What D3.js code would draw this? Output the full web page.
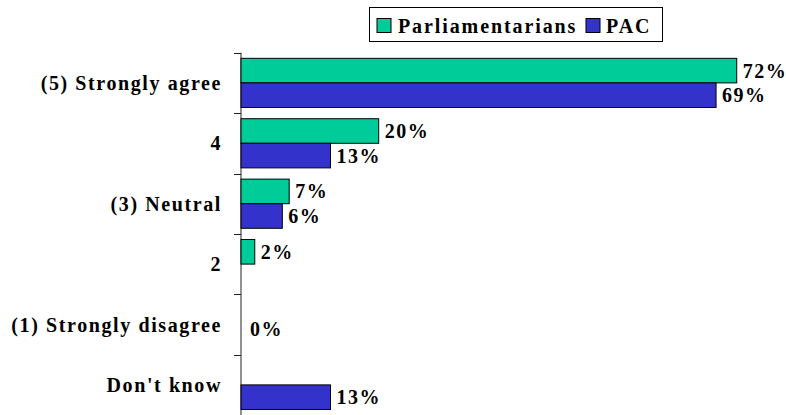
<!DOCTYPE html>
<html>
<head>
<meta charset="utf-8">
<script src="https://cdn.jsdelivr.net/npm/d3@7"></script>
<style>
  body { margin: 0; background: #fff; }
</style>
</head>
<body>
<svg id="chart"></svg>
<script>
const categories = ['(5) Strongly agree', '4', '(3) Neutral', '2', '(1) Strongly disagree', "Don't know"];
const seriesNames = ['Parliamentarians', 'PAC'];
const parliamentarians = [72, 20, 7, 2, 0, null];
const pac = [69, 13, 6, null, 0, 13];
const colors = ['#00cc99', '#3333cc'];

const W = 786, H = 415;
const margin = { top: 52.7, left: 241 };

const svg = d3.select('#chart').attr('width', W).attr('height', H);

function label(sel, spacing) {
  return sel
    .style('font-family', '"Liberation Serif"')
    .style('font-weight', 'bold')
    .style('font-size', '20px')
    .style('letter-spacing', spacing + 'px')
    .attr('fill', '#000');
}

const y = d3.scaleBand()
  .domain(categories)
  .range([margin.top, margin.top + 60.4 * categories.length])
  .paddingInner(0.186)
  .paddingOuter(0.093);

const ySub = d3.scaleBand()
  .domain(seriesNames)
  .range([0, y.bandwidth()]);

const x = d3.scaleLinear()
  .domain([0, 80])
  .range([margin.left, margin.left + 6.885 * 80]);

const step = y.step();

// axis line and tick marks at category boundaries
const axis = svg.append('g').attr('stroke', '#222').attr('stroke-width', 1);
axis.append('line')
  .attr('x1', margin.left).attr('x2', margin.left)
  .attr('y1', margin.top).attr('y2', H + 5);
d3.range(categories.length).forEach(i => {
  const ty = Math.round(y(categories[i]) - y.paddingOuter() * step) + 0.5;
  axis.append('line')
    .attr('x1', margin.left - 7).attr('x2', margin.left)
    .attr('y1', ty).attr('y2', ty);
});

// category labels
svg.append('g').selectAll('text')
  .data(categories)
  .enter()
  .append('text')
  .attr('x', 222)
  .attr('y', d => y(d) + y.bandwidth() / 2)
  .attr('dy', '0.35em')
  .attr('text-anchor', 'end')
  .text(d => d)
  .call(label, 1.6);

const series = [parliamentarians, pac];
series.forEach((vals, s) => {
  const rows = categories.map((c, i) => ({ c, v: vals[i] })).filter(d => d.v !== null && d.v > 0);
  svg.append('g').selectAll('rect')
    .data(rows)
    .enter()
    .append('rect')
    .attr('x', x(0))
    .attr('y', d => y(d.c) + ySub(seriesNames[s]))
    .attr('width', d => x(d.v) - x(0))
    .attr('height', ySub.bandwidth())
    .attr('fill', colors[s])
    .attr('stroke', '#000')
    .attr('stroke-width', 1);

  svg.append('g').selectAll('text')
    .data(rows)
    .enter()
    .append('text')
    .attr('x', d => x(d.v) + 6)
    .attr('y', d => y(d.c) + ySub(seriesNames[s]) + ySub.bandwidth() / 2)
    .attr('dy', '0.35em')
    .text(d => d.v + '%')
    .call(label, 1.5);
});

// categories where every series is zero get one shared label
categories.forEach((c, i) => {
  if (series.every(v => v[i] === 0)) {
    svg.append('text')
      .attr('x', x(0) + 9)
      .attr('y', y(c) + y.bandwidth() / 2 + 4)
      .attr('dy', '0.35em')
      .text('0%')
      .call(label, 1.5);
  }
});

// legend
const legend = svg.append('g');
legend.append('rect')
  .attr('x', 369.5).attr('y', 7.5)
  .attr('width', 293).attr('height', 34)
  .attr('fill', '#fff').attr('stroke', '#000');
const legendItems = [
  { name: seriesNames[0], sx: 377, tx: 398 },
  { name: seriesNames[1], sx: 586, tx: 606 }
];
legendItems.forEach((d, i) => {
  legend.append('rect')
    .attr('x', d.sx).attr('y', 18.5)
    .attr('width', 14).attr('height', 14)
    .attr('fill', colors[i]).attr('stroke', '#000');
  legend.append('text')
    .attr('x', d.tx).attr('y', 25.5)
    .attr('dy', '0.35em')
    .text(d.name)
    .call(label, 1.9);
});
</script>
</body>
</html>
